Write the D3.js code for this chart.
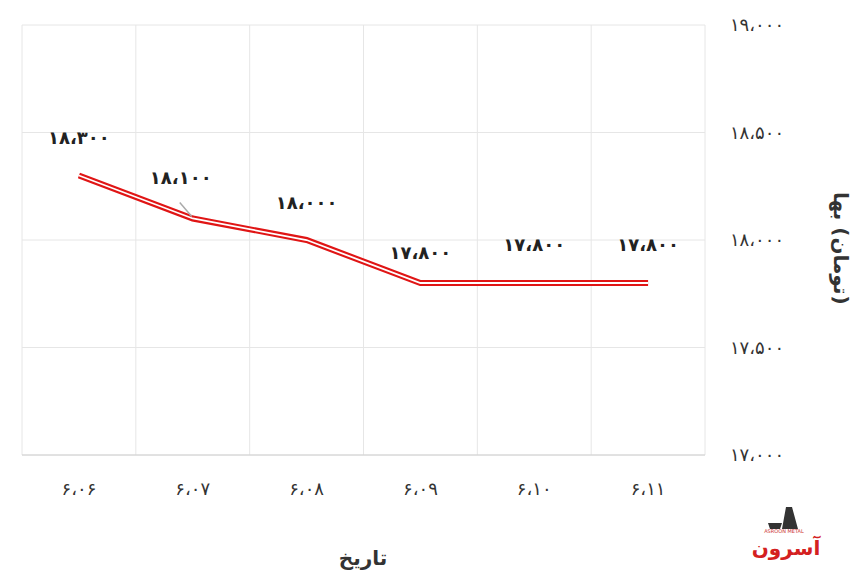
<!DOCTYPE html>
<html>
<head>
<meta charset="utf-8">
<script src="https://cdn.jsdelivr.net/npm/d3@7"></script>
<style>
body { margin: 0; background: #fff; }
text { font-family: "DejaVu Sans", "Noto Sans", sans-serif; }
</style>
</head>
<body>
<div id="chart"></div>
<script>
var categories = ["۶،۰۶", "۶،۰۷", "۶،۰۸", "۶،۰۹", "۶،۱۰", "۶،۱۱"];
var prices = [18300, 18100, 18000, 17800, 17800, 17800];
var priceLabels = ["۱۸،۳۰۰", "۱۸،۱۰۰", "۱۸،۰۰۰", "۱۷،۸۰۰", "۱۷،۸۰۰", "۱۷،۸۰۰"];
var yTicks = [17000, 17500, 18000, 18500, 19000];
var yTickLabels = ["۱۷،۰۰۰", "۱۷،۵۰۰", "۱۸،۰۰۰", "۱۸،۵۰۰", "۱۹،۰۰۰"];

var svgWidth = 860, svgHeight = 582;
var margin = { top: 25, right: 155, bottom: 127, left: 22 };
var width = svgWidth - margin.left - margin.right;
var height = svgHeight - margin.top - margin.bottom;

var svg = d3.select("#chart").append("svg")
    .attr("width", svgWidth)
    .attr("height", svgHeight);

var g = svg.append("g")
    .attr("transform", `translate(${margin.left}, ${margin.top})`);

var x = d3.scaleBand().domain(categories).range([0, width]);
var y = d3.scaleLinear().domain([17000, 19000]).range([height, 0]);

// grid
g.selectAll(".hgrid").data(yTicks).enter().append("line")
    .attr("x1", 0).attr("x2", width)
    .attr("y1", d => y(d)).attr("y2", d => y(d))
    .attr("stroke", "#e6e6e6");
g.selectAll(".vgrid").data(d3.range(categories.length + 1)).enter().append("line")
    .attr("x1", i => i * x.bandwidth()).attr("x2", i => i * x.bandwidth())
    .attr("y1", 0).attr("y2", height)
    .attr("stroke", "#e6e6e6");
g.append("line").attr("x1", 0).attr("x2", width).attr("y1", height).attr("y2", height)
    .attr("stroke", "#d0d0d0");

// y labels (right)
g.selectAll(".ylab").data(yTicks).enter().append("text")
    .attr("x", width + 52).attr("y", d => y(d))
    .attr("dy", "0.35em").attr("text-anchor", "middle")
    .attr("font-size", 18).attr("fill", "#333")
    .text((d, i) => yTickLabels[i]);

// x labels
g.selectAll(".xlab").data(categories).enter().append("text")
    .attr("x", d => x(d) + x.bandwidth() / 2).attr("y", height + 40)
    .attr("text-anchor", "middle").attr("font-size", 18).attr("fill", "#333")
    .text(d => d);

// axis titles
svg.append("text").attr("x", 363).attr("y", 565).attr("text-anchor", "middle")
    .attr("font-size", 20).attr("font-weight", "bold").attr("fill", "#333")
    .text("تاریخ");
var yTitle = svg.append("g").attr("transform", "translate(834, 192) rotate(90)");
var pos = 0;
["بها", " ", "(", "تومان", ")"].forEach(function(part) {
    var t = yTitle.append("text").attr("x", pos).attr("y", 0)
        .attr("font-size", 20).attr("font-weight", "bold").attr("fill", "#333")
        .attr("xml:space", "preserve").text(part);
    pos += part === " " ? 6 : t.node().getComputedTextLength() + 1;
});

// line
var line = d3.line()
    .x((d, i) => x(categories[i]) + x.bandwidth() / 2)
    .y(d => y(d));
g.append("path").datum(prices).attr("d", line)
    .attr("fill", "none").attr("stroke", "#e01515").attr("stroke-width", 6);
g.append("path").datum(prices).attr("d", line)
    .attr("fill", "none").attr("stroke", "#fff").attr("stroke-width", 1.8);

// leader line for second label
var p1x = x(categories[1]) + x.bandwidth() / 2;
g.append("line")
    .attr("x1", p1x - 13).attr("y1", y(prices[1]) - 16)
    .attr("x2", p1x - 1).attr("y2", y(prices[1]) - 2)
    .attr("stroke", "#aaa").attr("stroke-width", 1.5);

// data labels
var labelOffsets = [32, 35, 31, 24, 32, 32];
g.selectAll(".dlab").data(prices).enter().append("text")
    .attr("x", (d, i) => x(categories[i]) + x.bandwidth() / 2 - (i === 1 ? 12 : 0))
    .attr("y", (d, i) => y(d) - labelOffsets[i])
    .attr("text-anchor", "middle").attr("font-size", 18).attr("font-weight", 600).attr("fill", "#222")
    .text((d, i) => priceLabels[i]);

// logo
var logo = svg.append("g").attr("transform", "translate(786, 555)");
logo.append("text").attr("x", 0).attr("y", 0).attr("text-anchor", "middle")
    .attr("font-size", 20).attr("font-weight", "bold").attr("fill", "#d42020")
    .text("آسرون");
logo.append("text").attr("x", -2).attr("y", -22).attr("text-anchor", "middle")
    .attr("font-size", 5).attr("fill", "#c33").text("ASROON METAL");
logo.append("path").attr("d", "M-4,-26 L0,-48 L6,-48 L12,-26 Z M-18,-32 L-4,-32 L-6,-26 L-16,-26 Z")
    .attr("fill", "#333");
</script>
</body>
</html>
